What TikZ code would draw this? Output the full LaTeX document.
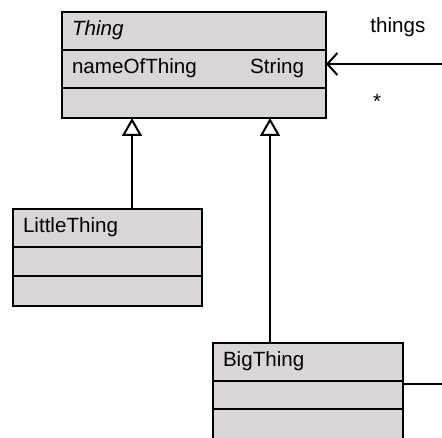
\documentclass[tikz,border=0pt]{standalone}
\usepackage{fontspec}
\setmainfont{Liberation Sans}
\usetikzlibrary{positioning,arrows.meta}
\definecolor{classgrey}{RGB}{219,214,214}
\tikzset{
	classpart/.style={draw, fill=classgrey, line width=1pt, outer sep=0pt, inner xsep=5pt, inner ysep=0pt, text height=8pt, text depth=3pt, align=left, font=\fontsize{10.3}{12}\selectfont},
	inherit/.style={line width=1pt, -{Triangle[open, length=9pt, width=10pt, fill=white]}},
	assoc/.style={line width=1pt, -{Straight Barb[length=5pt, width=11pt]}},
	label/.style={font=\fontsize{10.3}{12}\selectfont, inner sep=0pt}
}
\begin{document}
\begin{tikzpicture}[x=1pt,y=-1pt]
	\useasboundingbox (0,0) rectangle (221,218.5);

	% Thing
	\node[classpart, text width=122pt, minimum height=19pt, anchor=north west] (thing) at (31,6) {\textit{Thing}};
	\node[classpart, text width=122pt, minimum height=19pt, below=0pt of thing] (thingAttr) {nameOfThing\hfill String\rule{6pt}{0pt}};
	\node[classpart, text width=122pt, minimum height=15pt, below=0pt of thingAttr] (thingOps) {};

	% LittleThing
	\node[classpart, text width=84.5pt, minimum height=19pt, anchor=north west] (little) at (6.5,104.5) {LittleThing};
	\node[classpart, text width=84.5pt, minimum height=14.3pt, below=0pt of little] (littleAttr) {};
	\node[classpart, text width=84.5pt, minimum height=15.2pt, below=0pt of littleAttr] (littleOps) {};

	% BigThing
	\node[classpart, text width=85pt, minimum height=19pt, anchor=north west] (big) at (106.5,171.3) {BigThing};
	\node[classpart, text width=85pt, minimum height=14.3pt, below=0pt of big] (bigAttr) {};
	\node[classpart, text width=85pt, minimum height=15pt, below=0pt of bigAttr] (bigOps) {};

	% generalisation
	\draw[inherit] ([xshift=59.5pt]little.north west) -- ([xshift=59.5pt]little.north west |- thingOps.south);
	\draw[inherit] ([xshift=28.5pt]big.north west) -- ([xshift=28.5pt]big.north west |- thingOps.south);

	% association
	\coordinate (thingsIn) at (221,32);
	\coordinate (bigOut) at (221,192.2);
	\draw[assoc] (thingsIn) -- (thingsIn -| thingAttr.east);
	\draw[line width=1pt] (bigOut -| bigAttr.east) -- (bigOut);
	\node[label, anchor=base west] (thingsRole) at (185,16.5) {things};
	\node[label, anchor=base] (thingsMult) at (188.5,54.5) {*};
\end{tikzpicture}
\end{document}
